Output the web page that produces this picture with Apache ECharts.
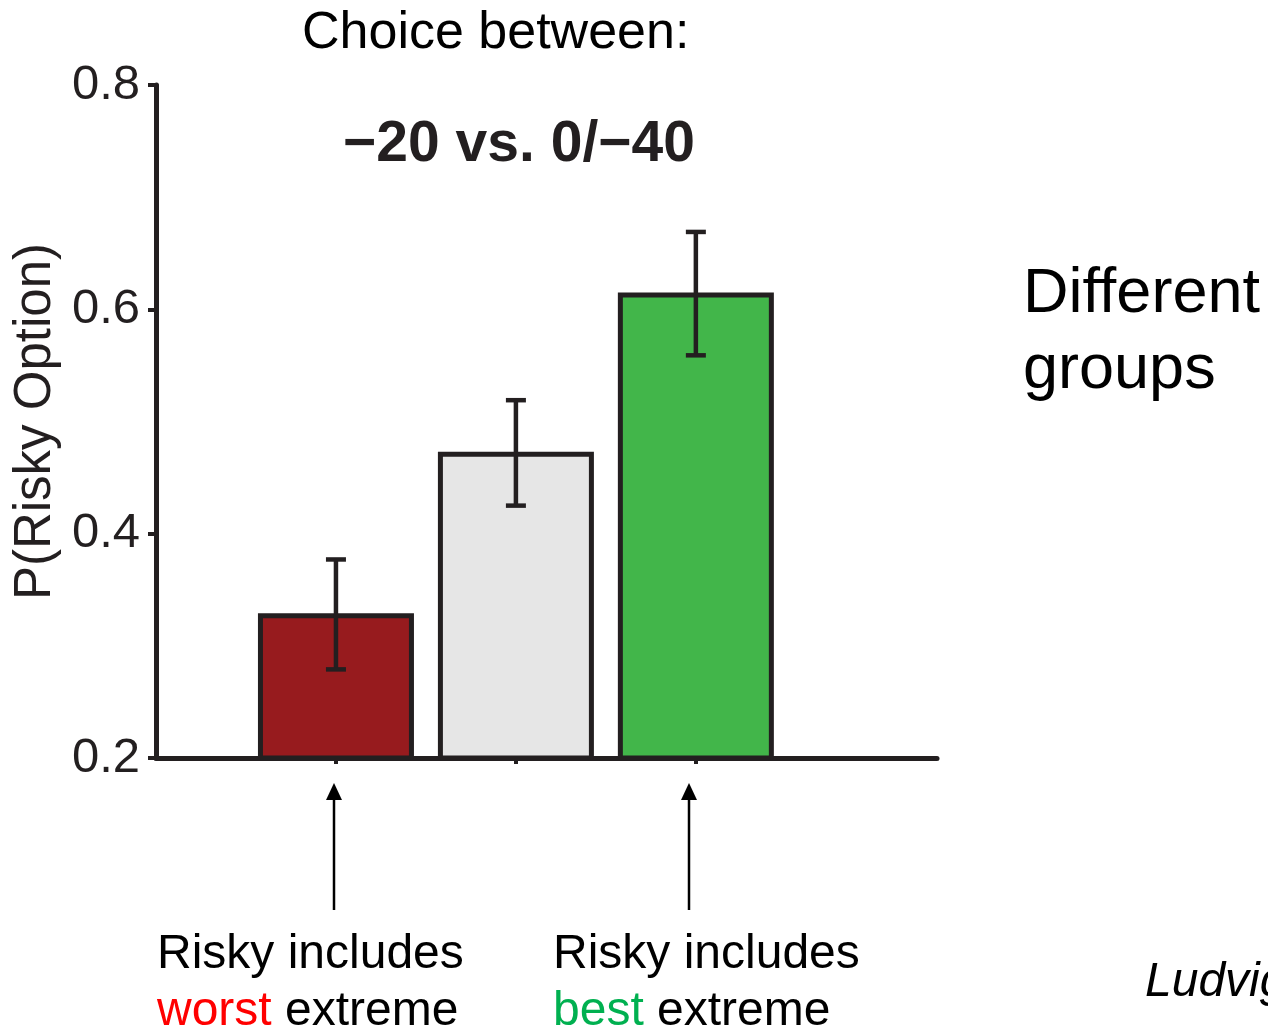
<!DOCTYPE html>
<html>
<head>
<meta charset="utf-8">
<script src="https://cdn.jsdelivr.net/npm/echarts@6/dist/echarts.min.js"></script>
<style>
html,body{margin:0;padding:0;background:#fff;}
#chart{width:1268px;height:1028px;}
</style>
</head>
<body>
<div id="chart"></div>
<script>
// ---- data ----
const categories = ['Risky includes worst extreme', 'Neutral', 'Risky includes best extreme'];
const xPos = [1, 2, 3];
const means = [0.329, 0.473, 0.615];
const errLow = [0.279, 0.425, 0.559];
const errHigh = [0.377, 0.519, 0.669];
const barColors = ['#971b1e', '#e6e6e6', '#42b64a'];
const yTickLabels = ['0.2', '0.4', '0.6', '0.8'];

const FONT = "'Liberation Sans', Arial, Helvetica, sans-serif";
const INK = '#231f20';

const chart = echarts.init(document.getElementById('chart'), null, {renderer: 'canvas'});

const barData = xPos.map((x, i) => ({
  value: [x, means[i]],
  itemStyle: {color: barColors[i]}
}));
const errData = xPos.map((x, i) => [x, errLow[i], errHigh[i]]);

const option = {
  backgroundColor: '#ffffff',
  animation: false,
  grid: {left: 156, right: 331, top: 85, bottom: 270, containLabel: false},
  xAxis: {
    type: 'value',
    min: 0,
    max: 4.34,
    z: 10,
    axisLine: {show: true, onZero: false, lineStyle: {color: INK, width: 5}},
    axisTick: {show: true, customValues: xPos, length: 6, lineStyle: {color: INK, width: 4}},
    axisLabel: {show: false},
    splitLine: {show: false}
  },
  yAxis: {
    type: 'value',
    min: 0.2,
    max: 0.8,
    interval: 0.2,
    z: 10,
    name: 'P(Risky Option)',
    nameLocation: 'middle',
    nameRotate: 90,
    nameGap: 94,
    nameTextStyle: {fontSize: 51, color: INK, fontFamily: FONT},
    axisLine: {show: true, lineStyle: {color: INK, width: 5}},
    axisTick: {show: true, length: 8, lineStyle: {color: INK, width: 4}},
    axisLabel: {
      fontSize: 49, color: INK, fontFamily: FONT, margin: 16,
      formatter: (v) => {
        const idx = Math.round((v - 0.2) / 0.2);
        return yTickLabels[idx] !== undefined ? yTickLabels[idx] : '';
      }
    },
    splitLine: {show: false}
  },
  series: [
    {
      type: 'bar',
      data: barData,
      barWidth: 156,
      clip: true,
      z: 2,
      itemStyle: {borderColor: INK, borderWidth: 5}
    },
    {
      type: 'custom',
      z: 5,
      data: errData,
      renderItem: function (params, api) {
        const x = api.value(0);
        const lo = api.coord([x, api.value(1)]);
        const hi = api.coord([x, api.value(2)]);
        const hw = 10;
        const st = {stroke: INK, lineWidth: 4.5};
        return {
          type: 'group',
          children: [
            {type: 'line', shape: {x1: lo[0], y1: lo[1], x2: hi[0], y2: hi[1]}, style: st},
            {type: 'line', shape: {x1: hi[0] - hw, y1: hi[1], x2: hi[0] + hw, y2: hi[1]}, style: st},
            {type: 'line', shape: {x1: lo[0] - hw, y1: lo[1], x2: lo[0] + hw, y2: lo[1]}, style: st}
          ]
        };
      }
    }
  ],
  graphic: [
    {type: 'text', left: 302, top: 8, style: {text: 'Choice between:', font: '52px ' + FONT, fill: '#000'}},
    {type: 'text', x: 519, y: 145, style: {text: '\u221220 vs. 0/\u221240', font: 'bold 57px ' + FONT, fill: INK, textAlign: 'center', textVerticalAlign: 'middle'}},
    {type: 'text', x: 1023, y: 295, style: {text: 'Different', font: '63px ' + FONT, fill: '#000', textAlign: 'left', textVerticalAlign: 'middle'}},
    {type: 'text', x: 1023, y: 371, style: {text: 'groups', font: '63px ' + FONT, fill: '#000', textAlign: 'left', textVerticalAlign: 'middle'}},
    {type: 'text', x: 157, y: 955, style: {text: 'Risky includes', font: '48px ' + FONT, fill: '#000', textVerticalAlign: 'middle'}},
    {type: 'text', x: 157, y: 1012, style: {
      text: '{r|worst} extreme', font: '48px ' + FONT, fill: '#000', textVerticalAlign: 'middle',
      rich: {r: {fill: '#ff0000', font: '48px ' + FONT, fontSize: 48, fontFamily: FONT, color: '#ff0000'}}
    }},
    {type: 'text', x: 553, y: 955, style: {text: 'Risky includes', font: '48px ' + FONT, fill: '#000', textVerticalAlign: 'middle'}},
    {type: 'text', x: 553, y: 1012, style: {
      text: '{g|best} extreme', font: '48px ' + FONT, fill: '#000', textVerticalAlign: 'middle',
      rich: {g: {fill: '#00b050', font: '48px ' + FONT, fontSize: 48, fontFamily: FONT, color: '#00b050'}}
    }},
    {type: 'text', x: 1145, y: 983, style: {text: 'Ludvig et al.', font: 'italic 48px ' + FONT, fill: '#000', textVerticalAlign: 'middle'}},
    {type: 'line', shape: {x1: 334, y1: 910, x2: 334, y2: 796}, style: {stroke: '#000', lineWidth: 2.5}},
    {type: 'polygon', shape: {points: [[334, 783], [326, 800], [342, 800]]}, style: {fill: '#000'}},
    {type: 'line', shape: {x1: 689, y1: 910, x2: 689, y2: 796}, style: {stroke: '#000', lineWidth: 2.5}},
    {type: 'polygon', shape: {points: [[689, 783], [681, 800], [697, 800]]}, style: {fill: '#000'}}
  ]
};
chart.setOption(option);
</script>
</body>
</html>
